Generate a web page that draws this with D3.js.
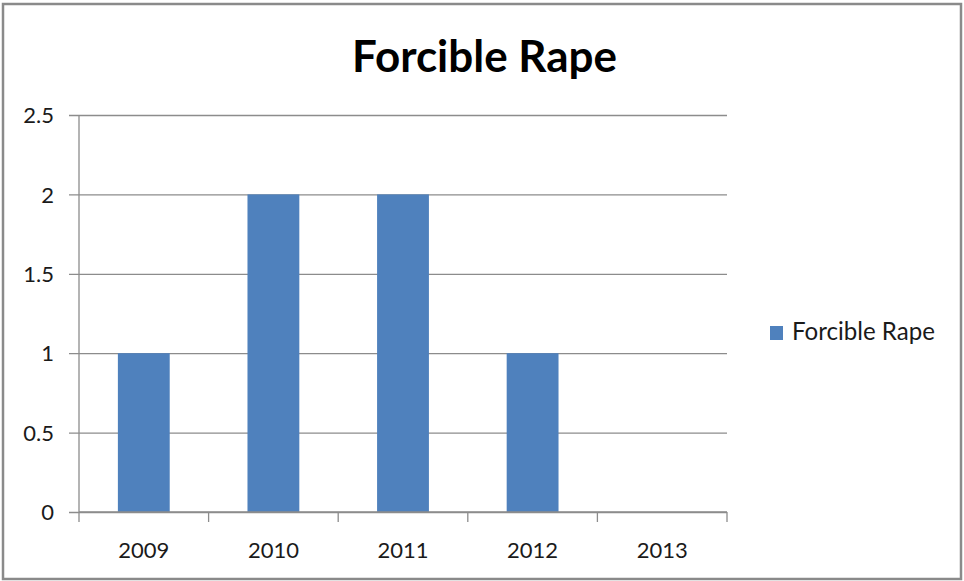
<!DOCTYPE html>
<html>
<head>
<meta charset="utf-8">
<script src="https://cdn.jsdelivr.net/npm/d3@7"></script>
<style>
  html, body { margin: 0; padding: 0; background: #fff; }
  svg { display: block; }
  text { font-family: Lato, "Open Sans", sans-serif; }
</style>
</head>
<body>
<script>
const categories = ["2009", "2010", "2011", "2012", "2013"];
const values = [1, 2, 2, 1, 0];
const yTicks = [0, 0.5, 1, 1.5, 2, 2.5];
const yTickLabels = ["0", "0.5", "1", "1.5", "2", "2.5"];
const seriesName = "Forcible Rape";
const title = "Forcible Rape";

const W = 964, H = 581;
const plot = { left: 79, right: 727, top: 115, bottom: 512 };
const barColor = "#4F81BD";
const gridColor = "#8c8c8c";
const textColor = "#1a1a1a";

const svg = d3.select("body").append("svg").attr("width", W).attr("height", H);

// outer border
svg.append("rect")
  .attr("x", 3).attr("y", 4).attr("width", 958).attr("height", 575)
  .attr("fill", "#fff").attr("stroke", "#8a8a8a").attr("stroke-width", 2.5);

const x = d3.scaleBand().domain(categories)
  .range([plot.left, plot.right]).paddingInner(0.6).paddingOuter(0.3);
const y = d3.scaleLinear().domain([0, 2.5]).range([plot.bottom, plot.top]);

// fit text to a target width
function fit(sel, target) {
  const fs = parseFloat(sel.attr("font-size"));
  const w = sel.node().getComputedTextLength();
  sel.attr("font-size", fs * target / w);
}

// gridlines + y axis
const yAxis = d3.axisLeft(y).tickValues(yTicks)
  .tickFormat((d, i) => yTickLabels[i])
  .tickSize(-(plot.right - plot.left)).tickPadding(25);
const gy = svg.append("g").attr("transform", `translate(${plot.left},0)`).call(yAxis);
gy.select(".domain").remove();
gy.selectAll(".tick line").attr("stroke", gridColor).attr("stroke-width", 1.3)
  .attr("x1", -10);
gy.selectAll(".tick text").attr("fill", textColor).attr("font-size", 22)
  .attr("font-family", "Lato, sans-serif").attr("dy", "0.35em");

// y axis line
svg.append("line")
  .attr("x1", plot.left).attr("x2", plot.left)
  .attr("y1", plot.top).attr("y2", plot.bottom)
  .attr("stroke", gridColor).attr("stroke-width", 1.3);

// bars
svg.append("g").selectAll("rect").data(values).join("rect")
  .attr("x", (d, i) => x(categories[i]))
  .attr("width", x.bandwidth())
  .attr("y", d => y(d))
  .attr("height", d => y(0) - y(d))
  .attr("fill", barColor);

// x axis
const step = x.step();
const boundaries = d3.range(categories.length + 1).map(i => plot.left + i * step);
const gx = svg.append("g");
gx.append("line")
  .attr("x1", plot.left).attr("x2", plot.right)
  .attr("y1", plot.bottom).attr("y2", plot.bottom)
  .attr("stroke", gridColor).attr("stroke-width", 1.3);
gx.selectAll("line.tk").data(boundaries).join("line").attr("class", "tk")
  .attr("x1", d => d).attr("x2", d => d)
  .attr("y1", plot.bottom).attr("y2", plot.bottom + 10)
  .attr("stroke", gridColor).attr("stroke-width", 1.3);
gx.selectAll("text").data(categories).join("text")
  .attr("x", d => x(d) + x.bandwidth() / 2)
  .attr("y", 558)
  .attr("text-anchor", "middle")
  .attr("fill", textColor).attr("font-size", 22)
  .text(d => d);

// title
const t = svg.append("text")
  .attr("x", 484.5).attr("y", 72).attr("text-anchor", "middle")
  .attr("font-weight", "bold").attr("font-size", 40).attr("fill", "#000")
  .text(title);
fit(t, 265);

// legend
svg.append("rect").attr("x", 770).attr("y", 326).attr("width", 13).attr("height", 14)
  .attr("fill", barColor);
const lt = svg.append("text").attr("x", 792).attr("y", 340)
  .attr("fill", textColor).attr("font-size", 22).text(seriesName);
fit(lt, 143);
</script>
</body>
</html>
